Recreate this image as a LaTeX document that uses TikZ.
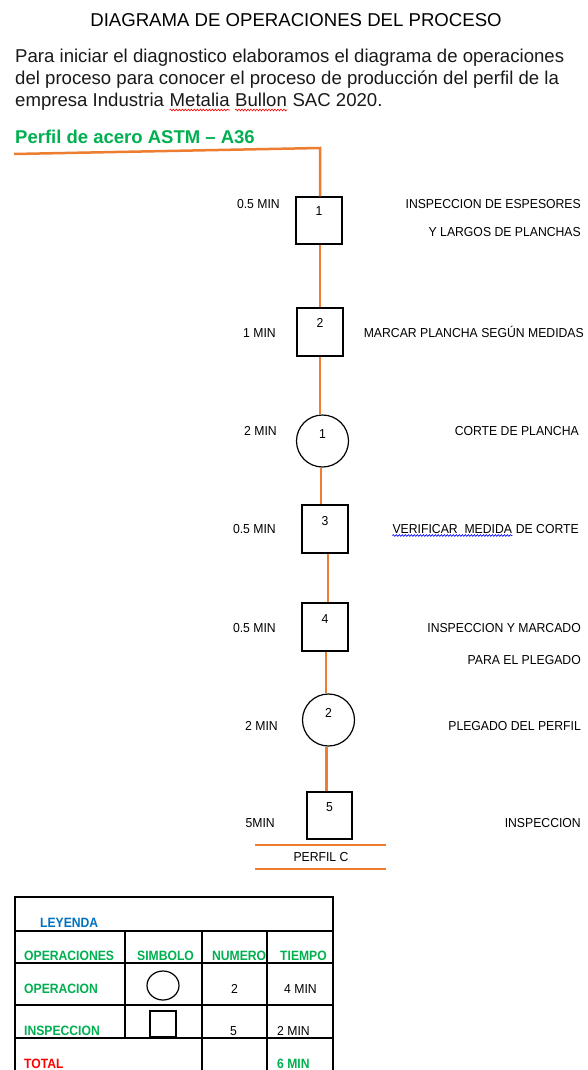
\documentclass[tikz,border=0pt]{standalone}
\usepackage{fontspec}
\setmainfont{Liberation Sans}
\newfontfamily\narrowsans[FakeStretch=0.94]{Liberation Sans}
\newfontfamily\tablesans[FakeStretch=0.9]{Liberation Sans}
\usetikzlibrary{calc,shapes.geometric,decorations.pathmorphing}
\definecolor{flow}{HTML}{ED7D31}
\definecolor{okgreen}{HTML}{00B050}
\definecolor{legblue}{HTML}{0070C0}

\tikzset{
  flowline/.style={draw=flow, line width=2.5pt},
  inspbox/.style={draw, line width=1.2pt, rectangle, minimum width=46pt, minimum height=47pt,
    inner sep=0pt, text height=7pt, text depth=17pt, font=\narrowsans\fontsize{13}{13}\selectfont},
  opcirc/.style={draw, line width=1.2pt, circle, minimum size=52pt, inner sep=0pt,
    text height=7pt, text depth=13pt, font=\narrowsans\fontsize{13}{13}\selectfont},
  timelbl/.style={anchor=base east, inner sep=0pt, font=\narrowsans\fontsize{13}{15}\selectfont},
  desclbl/.style={anchor=base east, inner sep=0pt, font=\narrowsans\fontsize{13}{15}\selectfont},
  paraline/.style={anchor=base west, inner sep=0pt, font=\fontsize{18.6}{22}\selectfont, text=black!90},
  cell/.style={anchor=base west, inner sep=0pt, font=\tablesans\bfseries\fontsize{13.5}{15}\selectfont},
  cellplain/.style={anchor=base west, inner sep=0pt, font=\narrowsans\fontsize{13}{15}\selectfont},
  gridline/.style={line width=1.2pt},
  spellwave/.style={decorate, decoration={snake, amplitude=0.9pt, segment length=3pt}, line width=0.6pt}
}

\begin{document}
\begin{tikzpicture}[x=1pt, y=-1pt]
\useasboundingbox (0,0) rectangle (587,1070);

% heading and introduction
\node[anchor=base, inner sep=0pt, font=\fontsize{18.6}{20}\selectfont] (title) at (296,27)
  {DIAGRAMA DE OPERACIONES DEL PROCESO};
\node[paraline] (p1) at (15,63) {Para iniciar el diagnostico elaboramos el diagrama de operaciones};
\node[paraline] (p2) at (15,85) {del proceso para conocer el proceso de producción del perfil de la};
\node[paraline] (p3a) at (15,107) {empresa Industria};
\node[paraline] (p3b) at ([xshift=5.2pt]p3a.base east) {Metalia};
\node[paraline] (p3c) at ([xshift=5.2pt]p3b.base east) {Bullon};
\node[paraline] (p3d) at ([xshift=5.2pt]p3c.base east) {SAC 2020.};
\draw[spellwave, red] ([yshift=-3pt]p3b.base west) -- ([yshift=-3pt]p3b.base east);
\draw[spellwave, red] ([yshift=-3pt]p3c.base west) -- ([yshift=-3pt]p3c.base east);
\node[anchor=base west, inner sep=0pt, text=okgreen, font=\bfseries\fontsize{18.5}{21}\selectfont] (mat) at (15,143)
  {Perfil de acero ASTM -- A36};

% process symbols
\node[inspbox] (b1) at (319,220.5) {1};
\node[inspbox, minimum height=48pt] (b2) at (320,332) {2};
\node[opcirc] (c1) at (322.5,441) {1};
\node[inspbox, minimum height=48pt, text depth=15pt] (b3) at (325,529) {3};
\node[inspbox, minimum height=48pt, text depth=15pt] (b4) at (325,627) {4};
\node[opcirc] (c2) at (328.5,720) {2};
\node[inspbox, minimum width=45pt, text depth=15pt] (b5) at (329.5,815.5) {5};

% connectors
\coordinate (start) at (14,154);
\coordinate (bend) at (320,148);
\draw[flowline] (start) -- (bend) -- (bend |- b1.north);
\draw[flowline] ([xshift=1pt]b1.south) -- ([xshift=1pt]b1.south |- b2.north);
\draw[flowline] (b2.south) -- (b2.south |- c1.north);
\draw[flowline] ([xshift=-1.5pt]c1.south) -- ([xshift=-1.5pt]c1.south |- b3.north);
\draw[flowline] ([xshift=3pt]b3.south) -- ([xshift=3pt]b3.south |- b4.north);
\draw[flowline] ([xshift=1pt]b4.south) -- ([xshift=1pt]b4.south |- c2.north);
\draw[flowline] ([xshift=-2pt]c2.south) -- ([xshift=-2pt]c2.south |- b5.north);

% finished product
\coordinate (endA) at (255,845);
\coordinate (endB) at (386,845);
\coordinate (endC) at (255,869);
\coordinate (endD) at (386,869);
\draw[flowline] (endA) -- (endB);
\draw[flowline] (endC) -- (endD);
\node[anchor=base, inner sep=0pt, font=\narrowsans\fontsize{13}{15}\selectfont] (prod) at (321,861) {PERFIL C};

% times
\node[timelbl] (t1) at (280,208) {0.5 MIN};
\node[timelbl] (t2) at (276,337) {1 MIN};
\node[timelbl] (t3) at (277,435) {2 MIN};
\node[timelbl] (t4) at (276,533) {0.5 MIN};
\node[timelbl] (t5) at (276,632) {0.5 MIN};
\node[timelbl] (t6) at (278,730) {2 MIN};
\node[timelbl] (t7) at (275,827) {5MIN};

% activity descriptions
\node[desclbl] (d1a) at (581,208) {INSPECCION DE ESPESORES};
\node[desclbl] (d1b) at (581,236) {Y LARGOS DE PLANCHAS};
\node[desclbl] (d2) at (584,337) {MARCAR PLANCHA SEGÚN MEDIDAS};
\node[desclbl] (d3) at (579,435) {CORTE DE PLANCHA};
\node[desclbl] (d4b) at (579,533) {DE CORTE};
\node[desclbl] (d4a) at ([xshift=-3.4pt]d4b.base west) {VERIFICAR\ \ MEDIDA};
\draw[spellwave, blue] ([yshift=-2.5pt]d4a.base west) -- ([yshift=-2.5pt]d4a.base east);
\node[desclbl] (d5a) at (581,632) {INSPECCION Y MARCADO};
\node[desclbl] (d5b) at (581,664) {PARA EL PLEGADO};
\node[desclbl] (d6) at (581,730) {PLEGADO DEL PERFIL};
\node[desclbl] (d7) at (581,827) {INSPECCION};

% legend table: text
\node[cell, text=legblue] (lhead) at (40,927) {LEYENDA};
\node[cell, text=okgreen] (h1) at (24,960) {OPERACIONES};
\node[cell, text=okgreen] (h2) at (137,960) {SIMBOLO};
\node[cell, text=okgreen] (h3) at (212,960) {NUMERO};
\node[cell, text=okgreen] (h4) at (280,960) {TIEMPO};
\node[cell, text=okgreen] (r1) at (24,993) {OPERACION};
\node[cellplain] (r1n) at (231,993) {2};
\node[cellplain] (r1t) at (284,993) {4 MIN};
\node[cell, text=okgreen] (r2) at (24,1035) {INSPECCION};
\node[cellplain] (r2n) at (230,1035) {5};
\node[cellplain] (r2t) at (277,1035) {2 MIN};
\node[cell, text=red] (tot) at (24,1068) {TOTAL};
\node[cell, text=okgreen] (tott) at (277,1068) {6 MIN};

% legend symbols
\node[draw, line width=1.2pt, ellipse, minimum width=32pt, minimum height=29pt, inner sep=0pt] (symop) at (163,985.5) {};
\node[draw, line width=1.2pt, rectangle, minimum width=26pt, minimum height=26pt, inner sep=0pt] (symin) at (163,1024) {};

% legend table: grid
\draw[gridline] (15,1080) -- (15,897) -- (333,897) -- (333,1080);
\draw[gridline] (15,931) -- (333,931);
\draw[gridline] (15,963) -- (333,963);
\draw[gridline] (15,1005) -- (333,1005);
\draw[gridline] (15,1038) -- (333,1038);
\draw[gridline] (125,931) -- (125,1038);
\draw[gridline] (202,931) -- (202,1080);
\draw[gridline] (267,931) -- (267,1080);
\end{tikzpicture}
\end{document}
